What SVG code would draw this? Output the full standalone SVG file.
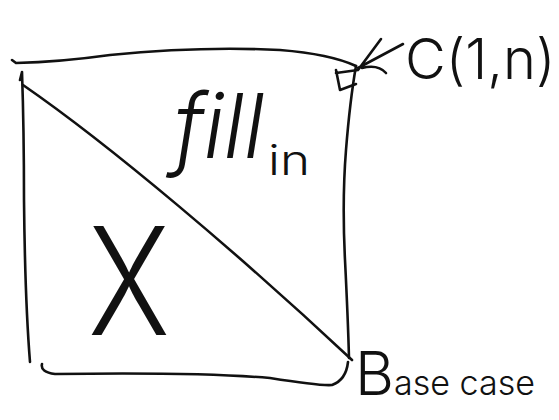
<svg xmlns="http://www.w3.org/2000/svg" width="559" height="420" viewBox="0 0 559 420">
<style>
.ink{fill:none;stroke:#111;stroke-width:2.6;stroke-linecap:round;stroke-linejoin:round}
.hand{font-family:Inter,"Open Sans","Liberation Sans",sans-serif;font-weight:300;fill:#111}
</style>
<rect width="559" height="420" fill="#fff"/>
<g id="square">
<path class="ink" d="M12,60 L16,63 Q60,62 110,55 Q200,46 280,50 Q330,54 356,66"/>
<path class="ink" d="M22,72 L20,80 M22,72 Q24,130 24,200 Q25,300 30,362"/>
<path class="ink" d="M42,364 Q40,372 55,374 Q200,372 270,378 Q320,386 332,385 Q346,380 348,362"/>
<path class="ink" d="M356,66 Q350,100 346,150 Q342,200 345,260 Q348,320 349,358"/>
</g>
<g id="diagonal">
<path class="ink" d="M23,85 C110,145 240,255 352,360"/>
</g>
<g id="corner-marker">
<path class="ink" d="M336,70 L340,90 L356,84 M336,73 L358,70 M358,68 L403,44 M358,70 L381,39 M362,68 Q378,64 386,73"/>
</g>
<g id="labels">
<text class="hand" x="405" y="79" font-size="56">C(1,n)</text>
<text class="hand" x="174" y="158" font-size="90" font-style="italic" textLength="90" lengthAdjust="spacingAndGlyphs">fill</text>
<text class="hand" x="268" y="175" font-size="42" textLength="42" lengthAdjust="spacingAndGlyphs">in</text>
<text class="hand" x="88" y="335" font-size="150" textLength="82" lengthAdjust="spacingAndGlyphs">X</text>
<text class="hand" x="355" y="395" font-size="60" textLength="180" lengthAdjust="spacingAndGlyphs">B<tspan font-size="34">ase case</tspan></text>
</g>
</svg>
